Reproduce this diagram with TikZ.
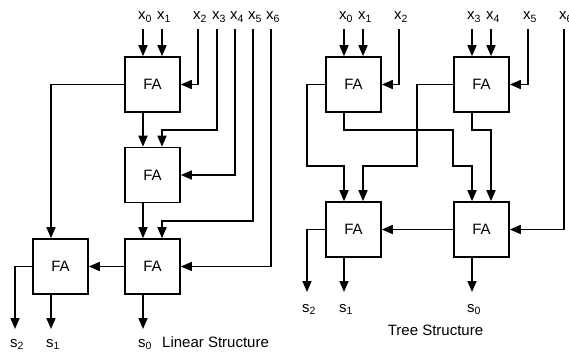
\documentclass[tikz,border=0pt]{standalone}
\usepackage{fontspec}
\setmainfont{Liberation Sans}
\usetikzlibrary{arrows.meta,calc}
\begin{document}
\begin{tikzpicture}[x=1pt,y=-1pt,
  fa/.style={draw,line width=1.6pt,minimum size=55pt,inner sep=0pt,font=\fontsize{15}{17}\selectfont},
  lab/.style={anchor=base,inner sep=0pt,font=\fontsize{15}{17}\selectfont},
  wire/.style={line width=1.6pt},
  arr/.style={wire,-{Triangle[length=11pt,width=9pt]}}]
\useasboundingbox (0,0) rectangle (569,352);
% ---------- Linear structure ----------
\node[fa] (L1) at (152.5,84.5) {FA};
\node[fa] (L2) at (152.5,175) {FA};
\node[fa] (L3) at (152.5,266.5) {FA};
\node[fa] (L4) at (60.5,266.5) {FA};
\foreach \n/\x in {0/143,1/162,2/198,3/217,4/235,5/253,6/271}{
  \coordinate (lx\n) at (\x,29);
  \node[lab] (llx\n) at (\x+2,20) {x\textsubscript{\n}};
}
\coordinate (ls0) at (143,329);
\coordinate (ls1) at (51,329);
\coordinate (ls2) at (15,329);
\node[lab] (lls0) at (145,347) {s\textsubscript{0}};
\node[lab] (lls1) at (53,347) {s\textsubscript{1}};
\node[lab] (lls2) at (17,347) {s\textsubscript{2}};
\node[lab,anchor=base west] (ltitle) at (162,347) {Linear Structure};
\draw[arr] (lx0) -- (L1.north -| lx0);
\draw[arr] (lx1) -- (L1.north -| lx1);
\draw[arr] (lx2) |- (L1.east);
\draw[arr] (lx3) |- (162,130) -- (L2.north -| lx1);
\draw[arr] (L1.south -| lx0) -- (L2.north -| lx0);
\draw[arr] (L1.west) -| ([xshift=-9.5pt]L4.north);
\draw[arr] (lx4) |- (L2.east);
\draw[arr] (lx5) |- (162,221) -- (L3.north -| lx1);
\draw[arr] (L2.south -| lx0) -- (L3.north -| lx0);
\draw[arr] (lx6) |- (L3.east);
\draw[arr] (L3.west) -- (L4.east);
\draw[arr] (L3.south -| lx0) -- (ls0);
\draw[arr] (L4.south -| ls1) -- (ls1);
\draw[arr] (L4.west) -| (ls2);
% ---------- Tree structure ----------
\node[fa] (R1) at (353.5,84.5) {FA};
\node[fa] (R2) at (481.5,84.5) {FA};
\node[fa] (R3) at (353.5,229.5) {FA};
\node[fa] (R4) at (481.5,229.5) {FA};
\foreach \n/\x in {0/344,1/363,2/399,3/472,4/491,5/528,6/564}{
  \coordinate (rx\n) at (\x,29);
  \node[lab] (lrx\n) at (\x+2,20) {x\textsubscript{\n}};
}
\coordinate (rs0) at (472,292);
\coordinate (rs1) at (344,292);
\coordinate (rs2) at (307,292);
\node[lab] (lrs0) at (474,312) {s\textsubscript{0}};
\node[lab] (lrs1) at (346,312) {s\textsubscript{1}};
\node[lab] (lrs2) at (309,312) {s\textsubscript{2}};
\node[lab] (rtitle) at (435.5,335) {Tree Structure};
\draw[arr] (rx0) -- (R1.north -| rx0);
\draw[arr] (rx1) -- (R1.north -| rx1);
\draw[arr] (rx2) |- (R1.east);
\draw[arr] (rx3) -- (R2.north -| rx3);
\draw[arr] (rx4) -- (R2.north -| rx4);
\draw[arr] (rx5) |- (R2.east);
\draw[arr] (rx6) |- (R4.east);
\draw[arr] (R1.west) -| (307,166) -| (R3.north -| rx0);
\draw[arr] (R1.south -| rx0) |- (453,130) |- (472,166) -- (R4.north -| rx3);
\draw[arr] (R2.west) -| (417,166) -| (R3.north -| rx1);
\draw[arr] (R2.south -| rx3) |- (491,130) -- (R4.north -| rx4);
\draw[arr] (R4.west) -- (R3.east);
\draw[arr] (R3.west) -| (rs2);
\draw[arr] (R3.south -| rs1) -- (rs1);
\draw[arr] (R4.south -| rs0) -- (rs0);
\end{tikzpicture}
\end{document}
